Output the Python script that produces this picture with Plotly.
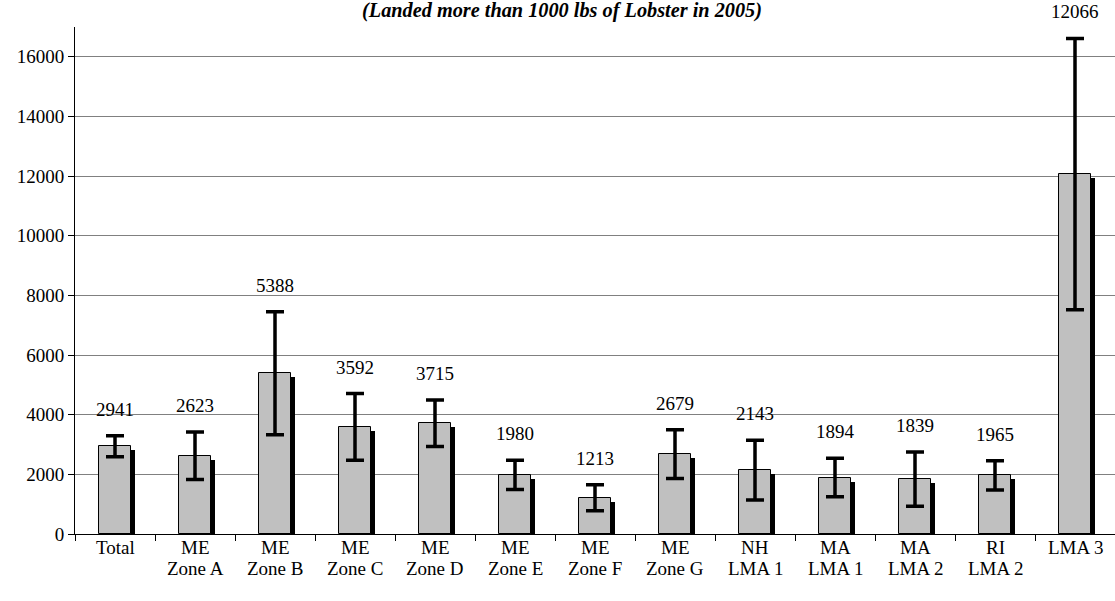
import plotly.graph_objects as go

categories = ["Total", "ME<br>Zone A", "ME<br>Zone B", "ME<br>Zone C", "ME<br>Zone D",
              "ME<br>Zone E", "ME<br>Zone F", "ME<br>Zone G", "NH<br>LMA 1",
              "MA<br>LMA 1", "MA<br>LMA 2", "RI<br>LMA 2", "LMA 3"]
values = [2941, 2623, 5388, 3592, 3715, 1980, 1213, 2679, 2143, 1894, 1839, 1965, 12066]
errors = [350, 796, 2060, 1115, 780, 490, 435, 820, 1003, 642, 908, 490, 4550]
y_ticks = [0, 2000, 4000, 6000, 8000, 10000, 12000, 14000, 16000]
title_text = "(Landed more than 1000 lbs of Lobster in 2005)"

FONT = "Liberation Serif"
Y_MAX = 17000
W, H = 1115, 601
M_L, M_R, M_T, M_B = 75, 0, 27, 67
PLOT_H = H - M_T - M_B
px_units = Y_MAX / PLOT_H  # data units per pixel
shadow_dy = 4 * px_units

fig = go.Figure()
# shadow bars
fig.add_trace(go.Bar(
    x=categories, y=[v - shadow_dy for v in values],
    width=0.4, offset=-0.15,
    marker=dict(color="black", line=dict(width=0)),
    hoverinfo="skip", showlegend=False,
))
# main bars
fig.add_trace(go.Bar(
    x=categories, y=values,
    width=0.4, offset=-0.2,
    marker=dict(color="#C0C0C0", line=dict(color="black", width=1)),
    error_y=dict(type="data", array=errors, symmetric=True,
                 color="black", thickness=3.5, width=9),
    showlegend=False,
))

# value labels
for c, v, e in zip(categories, values, errors):
    fig.add_annotation(x=c, y=v + e, text=str(v), showarrow=False,
                       yanchor="bottom", yshift=14,
                       font=dict(family=FONT, size=19, color="black"))

# category labels (two lines, tight spacing)
for c in categories:
    for i, line in enumerate(c.split("<br>")):
        fig.add_annotation(x=c, xref="x", yref="paper", y=0, text=line,
                           showarrow=False, yanchor="middle", yshift=-13 - 21 * i,
                           font=dict(family=FONT, size=19, color="black"))

fig.add_annotation(xref="paper", yref="paper", x=0.468, y=1.0, yshift=17,
                   text="<b><i>" + title_text + "</i></b>", showarrow=False,
                   yanchor="middle", font=dict(family=FONT, size=20.3, color="black"))

fig.update_layout(
    width=W, height=H,
    margin=dict(l=M_L, r=M_R, t=M_T, b=M_B),
    paper_bgcolor="white", plot_bgcolor="white",
    barmode="overlay", bargap=0,
    font=dict(family=FONT, size=19, color="black"),
)
fig.update_xaxes(
    type="category", showline=True, linecolor="black", linewidth=1,
    ticks="outside", ticklen=6, tickcolor="black", tickson="boundaries",
    showgrid=False, showticklabels=False,
    range=[-0.5, len(categories) - 0.5],
)
fig.update_yaxes(
    range=[0, Y_MAX], tickvals=y_ticks, ticktext=[str(t) for t in y_ticks],
    showline=True, linecolor="black", linewidth=1,
    ticks="outside", ticklen=6, tickcolor="black",
    showgrid=True, gridcolor="#808080", gridwidth=1, zeroline=False,
    tickfont=dict(family=FONT, size=19, color="black"),
)

fig.write_html("out.html", config={"displayModeBar": False},
               post_script="document.body.style.margin='0';document.body.style.padding='0';")
